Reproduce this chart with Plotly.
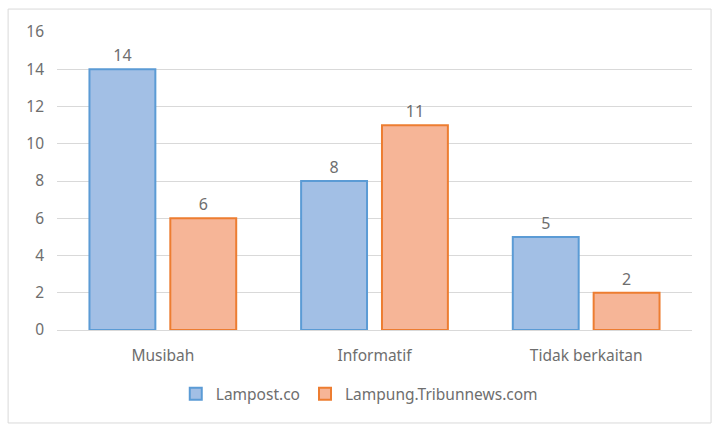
import plotly.graph_objects as go

categories = ["Musibah", "Informatif", "Tidak berkaitan"]
lampost = [14, 8, 5]
tribun = [6, 11, 2]
series_names = ["Lampost.co", "Lampung.Tribunnews.com"]
y_ticks = [0, 2, 4, 6, 8, 10, 12, 14, 16]

font_family = "Noto Sans, Open Sans, sans-serif"
gray = "#6E6E6E"

fig = go.Figure()
fig.add_trace(go.Bar(
    x=categories, y=lampost, name=series_names[0],
    marker=dict(color="#A2BFE5", line=dict(color="#5B9BD5", width=2)),
    text=lampost, textposition="outside",
    textfont=dict(color=gray, size=16, family=font_family),
    cliponaxis=False,
))
fig.add_trace(go.Bar(
    x=categories, y=tribun, name=series_names[1],
    marker=dict(color="#F6B597", line=dict(color="#ED7D31", width=2)),
    text=tribun, textposition="outside",
    textfont=dict(color=gray, size=16, family=font_family),
    cliponaxis=False,
))

fig.update_layout(
    width=713, height=428,
    margin=dict(l=57, r=21, t=32, b=98),
    paper_bgcolor="white", plot_bgcolor="white",
    barmode="group", bargap=0.236, bargroupgap=0.185,
    font=dict(family=font_family, color=gray, size=15),
    legend=dict(
        orientation="h", x=0.476, xanchor="center", y=-0.215, yanchor="middle",
        font=dict(size=15.5, color=gray, family=font_family),
        itemwidth=30, traceorder="normal",
    ),
    shapes=[dict(
        type="rect", xref="paper", yref="paper",
        x0=-0.077, x1=1.030, y0=-0.312, y1=1.077,
        line=dict(color="#D9D9D9", width=1), fillcolor="rgba(0,0,0,0)",
        layer="below",
    )],
)
fig.update_yaxes(
    range=[0, 16], tickvals=y_ticks, showgrid=True, gridcolor="#D9D9D9",
    gridwidth=1, zeroline=True, zerolinecolor="#D9D9D9", zerolinewidth=1,
    showline=False, ticks="", ticklabelstandoff=12,
    tickfont=dict(size=15.5, color=gray, family=font_family),
)
fig.update_xaxes(
    showline=False, ticks="", ticklabelstandoff=14,
    tickfont=dict(size=15.5, color=gray, family=font_family),
)

fig.write_html(
    "out.html",
    config={"displayModeBar": False},
    post_script="document.body.style.margin='0';document.body.style.overflow='hidden';",
)
